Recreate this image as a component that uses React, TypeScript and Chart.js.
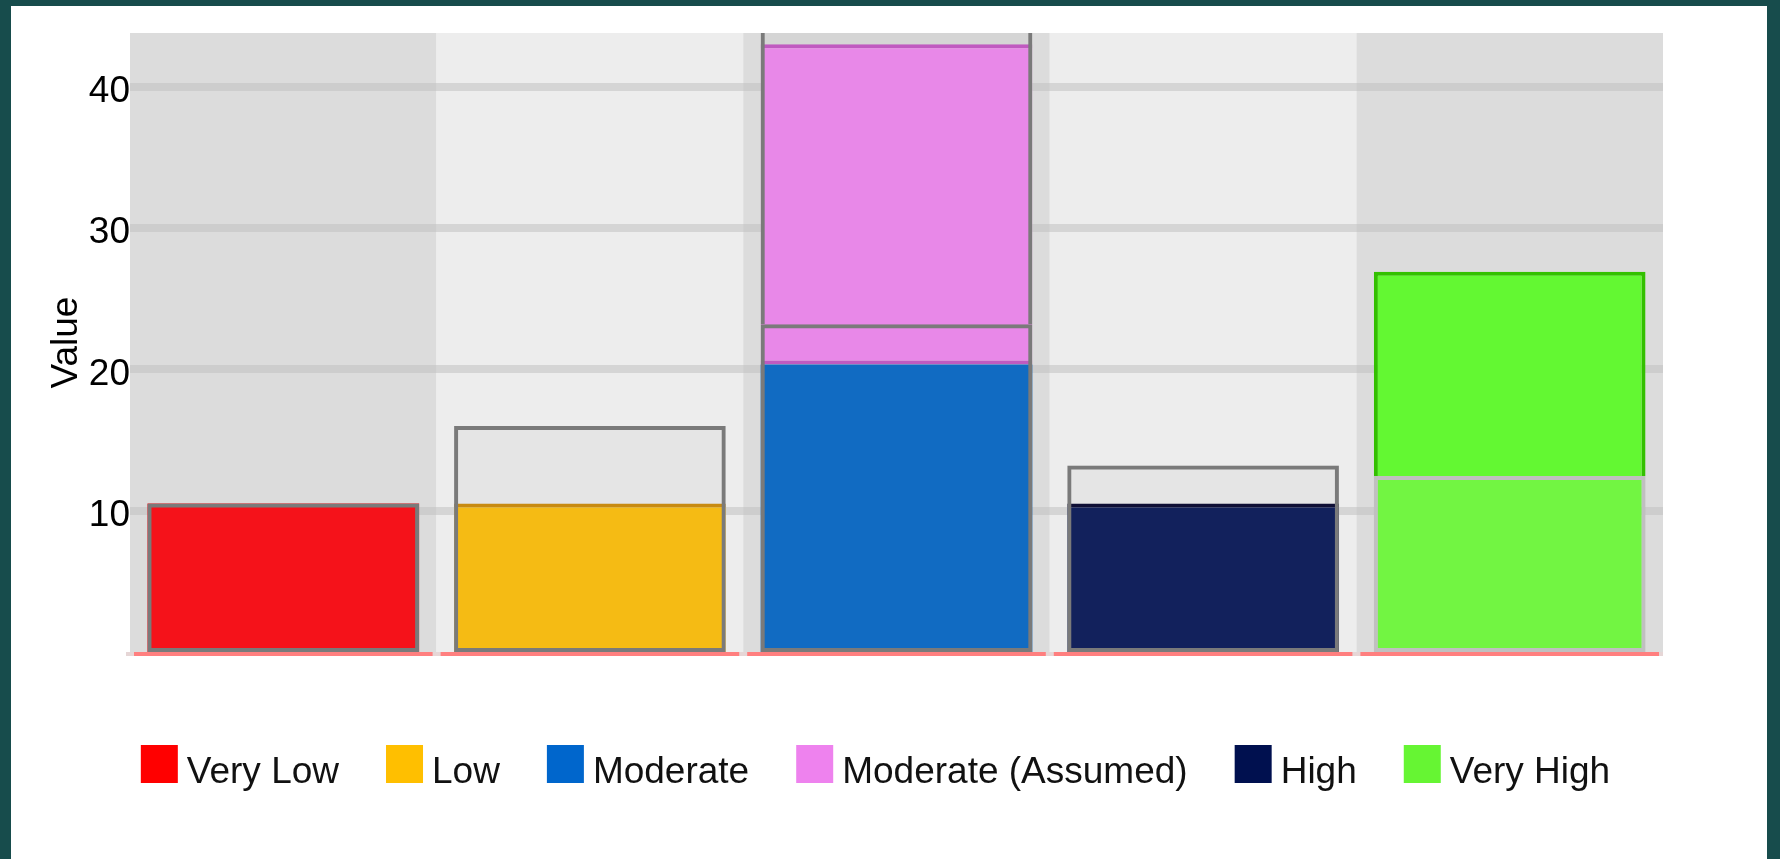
import React, { useEffect, useRef } from 'react';
import { Chart, registerables } from 'chart.js';

Chart.register(...registerables);

const FONT = '"Liberation Sans", Arial, sans-serif';

const categories = ['Very Low', 'Low', 'Moderate', 'High', 'Very High'];
const yTicks = [10, 20, 30, 40];
const yMax = 43.8;

const veryLowValues = [10.5, null, null, null, null];
const lowValues = [null, 10.5, null, null, null];
const moderateValues = [null, null, 20.35, null, null];
const moderateAssumedValues = [null, null, 43, null, null];
const highValues = [null, null, null, 10.5, null];
const veryHighBaseValues = [null, null, null, null, 12.45];
const veryHighValues = [null, null, null, null, 26.9];
const rangeValues = [10.5, 16, 23.2, 13.2, 12.45];
const assumedRangeValues = [null, null, 46, null, null];

const fromZero = (vals: (number | null)[]) => vals.map((v) => (v == null ? null : [0, v]));
const spanOf = (lo: (number | null)[], hi: (number | null)[]) =>
  hi.map((v, i) => (v == null ? null : [lo[i] ?? 0, v]));
const rangeTops = rangeValues.map((v, i) => assumedRangeValues[i] ?? v);

const common = {
  grouped: false,
  barPercentage: 0.886,
  categoryPercentage: 1,
  borderSkipped: false,
  clip: 0,
};

const colBgPlugin = {
  id: 'colBg',
  beforeDraw(chart: any) {
    const { ctx, chartArea } = chart;
    const n = categories.length;
    const w = (chartArea.right - chartArea.left) / n;
    ctx.save();
    for (let i = 0; i < n; i++) {
      ctx.fillStyle = i % 2 === 0 ? '#dcdcdc' : '#ededed';
      ctx.fillRect(chartArea.left + i * w, chartArea.top, w, chartArea.bottom - chartArea.top);
    }
    ctx.restore();
  },
};

const axisBandPlugin = {
  id: 'axisBand',
  afterDatasetsDraw(chart: any) {
    const { ctx, chartArea } = chart;
    const n = categories.length;
    const w = (chartArea.right - chartArea.left) / n;
    ctx.save();
    ctx.fillStyle = '#e6d6d6';
    ctx.fillRect(chartArea.left - 4, chartArea.bottom, chartArea.right - chartArea.left + 4, 4);
    ctx.fillStyle = '#ff7f7f';
    for (let i = 0; i < n; i++) {
      ctx.fillRect(chartArea.left + i * w + 4, chartArea.bottom, w - 8, 4);
    }
    ctx.restore();
  },
};

const legendPlugin = {
  id: 'customLegend',
  afterDraw(chart: any) {
    const ctx = chart.ctx;
    const items = chart.data.datasets.filter((d: any) => d.legendColor);
    ctx.save();
    ctx.font = `37px ${FONT}`;
    const box = 37;
    const gapText = 9;
    const gap = 47;
    const widths = items.map((d: any) => box + gapText + ctx.measureText(d.label).width);
    const total = widths.reduce((a: number, b: number) => a + b, 0) + gap * (items.length - 1);
    let x = 864.5 - total / 2;
    items.forEach((d: any, i: number) => {
      ctx.fillStyle = d.legendColor;
      ctx.fillRect(x, 739, box, 38);
      ctx.fillStyle = '#111';
      ctx.textAlign = 'left';
      ctx.textBaseline = 'alphabetic';
      ctx.fillText(d.label, x + box + gapText, 777);
      x += widths[i] + gap;
    });
    ctx.restore();
  },
};

export default function App() {
  const ref = useRef<HTMLCanvasElement | null>(null);

  useEffect(() => {
    if (!ref.current) return;
    const chart = new Chart(ref.current, {
      type: 'bar',
      data: {
        labels: categories,
        datasets: [
          {
            ...common,
            label: 'Range',
            data: fromZero(rangeValues),
            backgroundColor: ['rgba(0,0,0,0)', 'rgba(0,0,0,0)', 'rgba(0,0,0,0)', 'rgba(0,0,0,0)', '#72f542'],
            borderColor: ['#7a7a7a', '#7a7a7a', '#7a7a7a', '#7a7a7a', '#c0c0c0'],
            borderWidth: 4,
          },
          {
            ...common,
            label: 'Assumed range',
            data: spanOf(rangeValues, assumedRangeValues),
            backgroundColor: 'rgba(0,0,0,0)',
            borderColor: '#7a7a7a',
            borderWidth: { top: 4, right: 4, bottom: 0, left: 4 },
          },
          {
            ...common,
            label: 'Very Low',
            legendColor: '#ff0000',
            data: fromZero(veryLowValues),
            backgroundColor: '#f5121a',
            borderWidth: 0,
          },
          {
            ...common,
            label: 'Low',
            legendColor: '#ffbf00',
            data: fromZero(lowValues),
            backgroundColor: '#f5bb14',
            borderColor: '#c88a10',
            borderWidth: { top: 4, right: 0, bottom: 0, left: 0 },
          },
          {
            ...common,
            label: 'Moderate',
            legendColor: '#0066cc',
            data: fromZero(moderateValues),
            backgroundColor: '#116bc2',
            borderWidth: 0,
          },
          {
            ...common,
            label: 'Moderate (Assumed)',
            legendColor: '#ee82ee',
            data: spanOf(moderateValues, moderateAssumedValues),
            backgroundColor: '#e888e8',
            borderColor: '#c05ac0',
            borderWidth: { top: 4, right: 0, bottom: 4, left: 0 },
          },
          {
            ...common,
            label: 'High',
            legendColor: '#00104f',
            data: fromZero(highValues),
            backgroundColor: '#12215c',
            borderColor: '#0f0f35',
            borderWidth: { top: 4, right: 0, bottom: 0, left: 0 },
          },
          {
            ...common,
            label: 'Very High',
            legendColor: '#66f533',
            data: spanOf(veryHighBaseValues, veryHighValues),
            backgroundColor: '#63f832',
            borderColor: '#33c000',
            borderWidth: { top: 4, right: 4, bottom: 0, left: 4 },
          },
          {
            ...common,
            label: 'Range fill',
            data: fromZero(rangeTops),
            backgroundColor: 'rgba(128,128,128,0.075)',
            borderWidth: 0,
          },
        ] as any,
      },
      options: {
        responsive: false,
        animation: false,
        devicePixelRatio: 1,
        events: [],
        layout: { padding: { top: 27, right: 104, bottom: 207, left: 0 } },
        plugins: {
          legend: { display: false },
          tooltip: { enabled: false },
        },
        scales: {
          x: { display: false },
          y: {
            min: 0,
            max: yMax,
            afterFit: (s: any) => {
              s.width = 119;
            },
            afterBuildTicks: (s: any) => {
              s.ticks = yTicks.map((v) => ({ value: v }));
            },
            ticks: {
              font: { family: FONT, size: 37 },
              color: '#000',
              padding: 0,
              labelOffset: 5,
            },
            grid: { color: 'rgba(190,190,190,0.5)', lineWidth: 8, drawTicks: false },
            border: { display: false },
            title: {
              display: true,
              text: 'Value',
              font: { family: FONT, size: 37 },
              color: '#000',
              padding: { top: 34, bottom: 0 },
            },
          },
        },
      } as any,
      plugins: [colBgPlugin, axisBandPlugin, legendPlugin],
    });
    return () => chart.destroy();
  }, []);

  return (
    <div style={{ position: 'fixed', left: 0, top: 0, width: 1780, height: 859, background: '#174c4c' }}>
      <div style={{ position: 'absolute', left: 11, top: 6, width: 1756, height: 853, background: '#ffffff' }}>
        <canvas ref={ref} width={1756} height={853} style={{ display: 'block' }} />
      </div>
    </div>
  );
}
